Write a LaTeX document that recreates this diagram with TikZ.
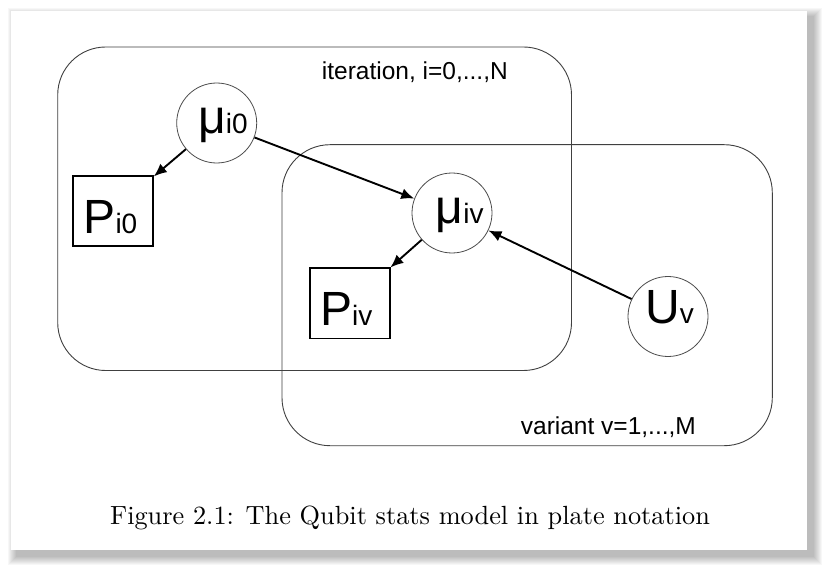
\documentclass[tikz,border=0pt]{standalone}
\usepackage{fontspec}
\newfontfamily\arialf{Liberation Sans}
\newfontfamily\capf{lmroman10-regular.otf}
\usetikzlibrary{arrows.meta}
\newcommand\nodeBig{\arialf\fontsize{48}{48}\selectfont}
\newcommand\nodeSub[1]{{\arialf\fontsize{28}{28}\selectfont #1}}
\begin{document}
\begin{tikzpicture}[x=1pt,y=-1pt,
  latent/.style={circle, draw=black!70, line width=0.8pt, minimum size=80pt, inner sep=0pt},
  obsbox/.style={rectangle, draw=black, line width=1.6pt, minimum width=80pt, minimum height=70pt, inner sep=0pt},
  plate/.style={rectangle, draw=black!75, line width=0.9pt, rounded corners=48pt, inner sep=0pt},
  edge/.style={-{Latex[length=13pt,width=11pt]}, line width=1.9pt},
  txt/.style={anchor=base west, inner sep=0pt},
  platelbl/.style={anchor=base west, inner sep=0pt, font=\arialf\fontsize{24.5}{24.5}\selectfont}
]
\useasboundingbox (0,0) rectangle (823,567);
\fill[white] (0,0) rectangle (823,567);
% page shadow
\foreach \s in {0,1,...,8}
  \fill[black, opacity=0.03] (16-\s,16-\s) rectangle (814+\s,557+\s);
\fill[white] (11,11) rectangle (807,550);

% plates
\node[plate, minimum width=513.8pt, minimum height=323.5pt] (plateI) at (314.6,208.75) {};
\node[plate, minimum width=490.3pt, minimum height=301pt] (plateV) at (527.15,295.2) {};
\node[platelbl] (lblI) at (321.7,79.3) {iteration, i=0,...,N};
\node[platelbl] (lblV) at (520.7,434.3) {variant v=1,...,M};

% nodes
\node[latent] (mu0) at (216.7,123) {};
\node[obsbox] (pi0) at (113,211) {};
\node[latent] (miv) at (452,213) {};
\node[obsbox] (piv) at (350,303.3) {};
\node[latent] (uv) at (668,316.5) {};

\node[txt] (mu0t) at (198,134) {\nodeBig μ\nodeSub{i0}};
\node[txt] (pi0t) at (83.3,233.3) {\nodeBig P\nodeSub{i0}};
\node[txt] (mivt) at (435.5,224) {\nodeBig μ\nodeSub{iv}};
\node[txt] (pivt) at (320,325) {\nodeBig P\nodeSub{iv}};
\node[txt] (uvt) at (645,323.3) {\nodeBig U\nodeSub{v}};

% edges
\draw[edge] (mu0) -- (pi0);
\draw[edge] (mu0) -- (miv);
\draw[edge] (miv) -- (piv);
\draw[edge] (uv) -- (miv);

% caption
\node[anchor=base, inner sep=0pt] (cap) at (410,524.5) {\capf\fontsize{26.3}{30}\selectfont Figure 2.1: The Qubit stats model in plate notation};
\end{tikzpicture}
\end{document}
